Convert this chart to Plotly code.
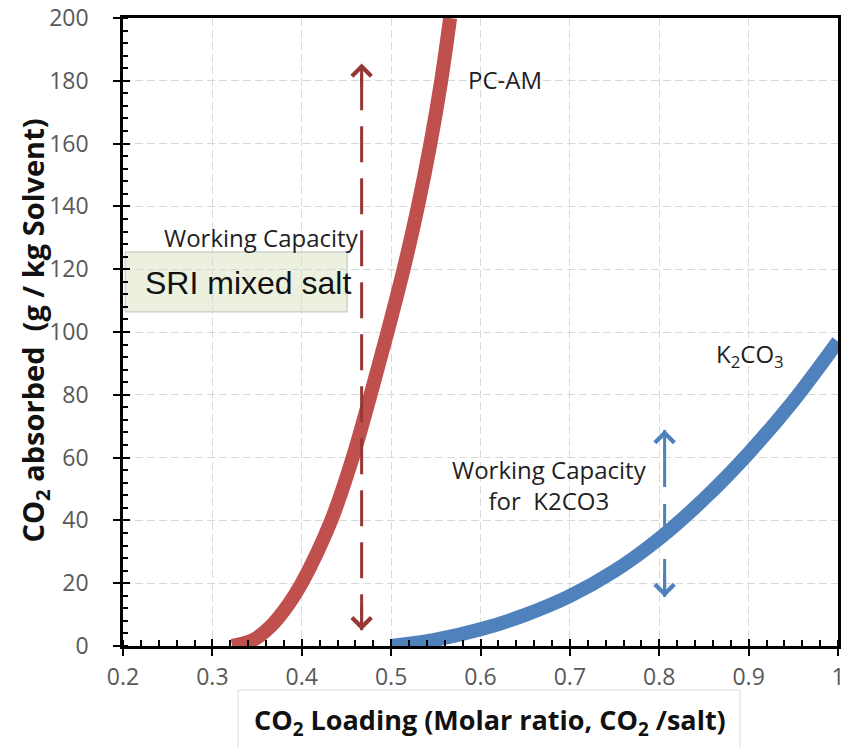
import plotly.graph_objects as go

# CO2 absorption isotherms: loading (mol CO2 / mol salt) vs CO2 absorbed (g / kg solvent)
pcam_loading = [0.322, 0.345, 0.365, 0.385, 0.400, 0.433, 0.457, 0.477, 0.496, 0.514, 0.530, 0.544, 0.556, 0.566]
pcam_absorbed = [0, 1.8, 6.2, 13.2, 20, 40, 60, 80, 100, 120, 140, 160, 180, 200]

k2co3_loading = [0.5, 0.55, 0.6, 0.65, 0.7, 0.75, 0.8, 0.85, 0.9, 0.95, 1.0]
k2co3_absorbed = [0, 2.0, 5.3, 9.9, 15.9, 23.9, 34.2, 46.8, 61.4, 78.0, 97.0]

# Working-capacity double arrows (loading position, absorbed range)
pcam_wc_loading = 0.467
pcam_wc_range = [5, 185.5]
k2co3_wc_loading = 0.806
k2co3_wc_range = [15.6, 68.8]

x_tickvals = [0.2, 0.3, 0.4, 0.5, 0.6, 0.7, 0.8, 0.9, 1.0]
x_ticktext = ["0.2", "0.3", "0.4", "0.5", "0.6", "0.7", "0.8", "0.9", "1"]
y_tickvals = [0, 20, 40, 60, 80, 100, 120, 140, 160, 180, 200]

RED = "#C0504D"
DARK_RED = "#953735"
BLUE = "#4F81BD"
FONT = "Open Sans"
TEXT = "#1f1f1f"
TICK = "#595959"

fig = go.Figure()

fig.add_trace(go.Scatter(
    x=pcam_loading, y=pcam_absorbed, mode="lines", name="PC-AM",
    line=dict(color=RED, width=14, shape="spline", smoothing=1.0),
    cliponaxis=False, showlegend=False, hoverinfo="skip"))

fig.add_trace(go.Scatter(
    x=k2co3_loading, y=k2co3_absorbed, mode="lines", name="K2CO3",
    line=dict(color=BLUE, width=14, shape="spline", smoothing=1.0),
    cliponaxis=False, showlegend=False, hoverinfo="skip"))

# dashed shafts of the working-capacity arrows
fig.add_trace(go.Scatter(
    x=[pcam_wc_loading, pcam_wc_loading], y=pcam_wc_range, mode="lines",
    line=dict(color=DARK_RED, width=3, dash="36px,16px"),
    showlegend=False, hoverinfo="skip"))
fig.add_trace(go.Scatter(
    x=[k2co3_wc_loading, k2co3_wc_loading], y=k2co3_wc_range, mode="lines",
    line=dict(color=BLUE, width=3, dash="38px,17px"),
    showlegend=False, hoverinfo="skip"))

# empty trace that carries the overlay axes used for inward major ticks
fig.add_trace(go.Scatter(x=[], y=[], xaxis="x2", yaxis="y2", showlegend=False))

annotations = []


def arrow_head(xv, tip, tail, color):
    return dict(x=xv, y=tip, ax=xv, ay=tail, xref="x", yref="y", axref="x", ayref="y",
                text="", showarrow=True, arrowhead=4, arrowsize=1.25, arrowwidth=3,
                arrowcolor=color)


annotations.append(arrow_head(pcam_wc_loading, pcam_wc_range[1], pcam_wc_range[1] - 8, DARK_RED))
annotations.append(arrow_head(pcam_wc_loading, pcam_wc_range[0], pcam_wc_range[0] + 8, DARK_RED))
annotations.append(arrow_head(k2co3_wc_loading, k2co3_wc_range[1], k2co3_wc_range[1] - 8, BLUE))
annotations.append(arrow_head(k2co3_wc_loading, k2co3_wc_range[0], k2co3_wc_range[0] + 8, BLUE))

label_font = dict(family=FONT, size=24, color=TEXT)
annotations += [
    dict(x=0.627, y=180.4, xref="x", yref="y", text="PC-AM", showarrow=False, font=label_font,
         xanchor="center", yanchor="middle"),
    dict(x=0.9015, y=92.7, xref="x", yref="y", text="K<sub>2</sub>CO<sub>3</sub>",
         showarrow=False, font=label_font, xanchor="center", yanchor="middle"),
    dict(x=0.3545, y=130, xref="x", yref="y", text="Working Capacity", showarrow=False,
         font=label_font, xanchor="center", yanchor="middle"),
    dict(x=0.677, y=51.3, xref="x", yref="y", text="Working Capacity<br>for  K2CO3",
         showarrow=False, font=label_font, xanchor="center", yanchor="middle"),
    dict(x=0.3399, y=115.7, xref="x", yref="y", text="SRI mixed salt", showarrow=False,
         font=dict(family="Liberation Sans", size=32, color="#111111"),
         xanchor="center", yanchor="middle"),
    # axis titles
    dict(x=0.513, y=-0.121, xref="paper", yref="paper",
         text="<b>CO<sub>2</sub> Loading (Molar ratio, CO<sub>2</sub> /salt)</b>",
         showarrow=False, font=dict(family=FONT, size=27, color="#111111"),
         xanchor="center", yanchor="middle"),
    dict(x=-0.124, y=0.503, xref="paper", yref="paper", textangle=-90,
         text="<b>CO<sub>2</sub> absorbed  (g / kg Solvent)</b>",
         showarrow=False, font=dict(family=FONT, size=29, color="#111111"),
         xanchor="center", yanchor="middle"),
]

shapes = [
    # box behind the "SRI mixed salt" label
    dict(type="rect", xref="x", yref="y", x0=0.2025, x1=0.4508, y0=106.4, y1=125.5,
         fillcolor="#EBF1DE", line=dict(color="#BFBFBF", width=1), layer="below"),
    # frame around the x-axis title
    dict(type="rect", xref="paper", yref="paper", x0=0.161, x1=0.863, y0=-0.19, y1=-0.070,
         fillcolor="rgba(0,0,0,0)", line=dict(color="#D9D9D9", width=1)),
]

axis_common = dict(showline=True, linecolor="black", linewidth=2.5, mirror=True,
                   showgrid=True, gridcolor="#D9D9D9", gridwidth=1, griddash="8px,4px",
                   zeroline=False, tickfont=dict(family=FONT, size=23, color=TICK),
                   ticks="outside", ticklen=7, tickwidth=2, tickcolor="black")

fig.update_layout(
    width=853, height=747,
    margin=dict(l=123, r=15, t=18, b=101, autoexpand=False),
    paper_bgcolor="white", plot_bgcolor="white",
    showlegend=False,
    xaxis=dict(range=[0.2, 1.0], tickvals=x_tickvals, ticktext=x_ticktext,
               minor=dict(dtick=0.02, ticks="inside", ticklen=6, tickwidth=1.5,
                          tickcolor="black", showgrid=False),
               ticklabelstandoff=2, **axis_common),
    yaxis=dict(range=[0, 200], tickvals=y_tickvals,
               minor=dict(dtick=4, ticks="inside", ticklen=5, tickwidth=1.5,
                          tickcolor="black", showgrid=False),
               ticklabelstandoff=20, **axis_common),
    xaxis2=dict(range=[0.2, 1.0], overlaying="x", anchor="y2", side="bottom",
                tickvals=x_tickvals, ticks="inside", ticklen=7, tickwidth=2,
                tickcolor="black", showticklabels=False, showgrid=False,
                zeroline=False, showline=False),
    yaxis2=dict(range=[0, 200], overlaying="y", anchor="x2", side="left",
                tickvals=y_tickvals, ticks="inside", ticklen=7, tickwidth=2,
                tickcolor="black", showticklabels=False, showgrid=False,
                zeroline=False, showline=False),
    annotations=annotations,
    shapes=shapes,
)

fig.write_html("out.html")
